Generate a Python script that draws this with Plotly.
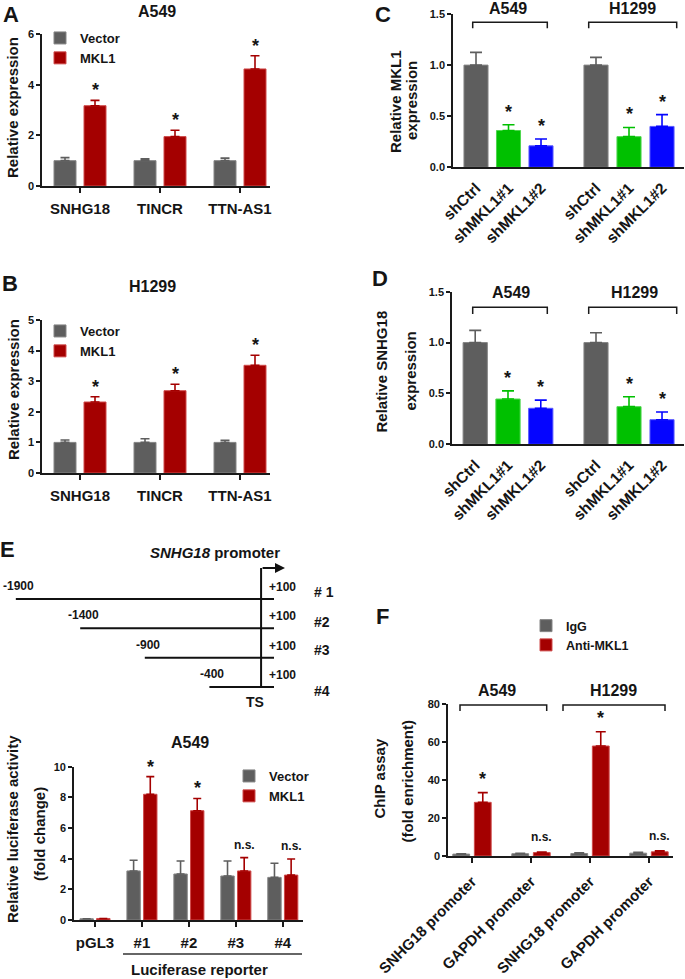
import plotly.graph_objects as go

W, H = 685, 979
FONT = "Liberation Sans, Arial, Helvetica, sans-serif"
TXT = "#151515"
AXC = "#1a1a1a"
GRAY, GRAY_L = "#5e5e5e", "#858585"
RED, RED_L = "#a40000", "#cf4a4a"
GREEN, GREEN_L = "#00c000", "#4fd64f"
BLUE, BLUE_L = "#0505ff", "#5a5aff"

# ---------------- data ----------------
lnc_genes = ["SNHG18", "TINCR", "TTN-AS1"]
A_vector = [1.00, 1.00, 1.00]
A_vector_err = [0.12, 0.07, 0.10]
A_mkl1 = [3.17, 1.95, 4.62]
A_mkl1_err = [0.21, 0.25, 0.52]

B_vector = [1.00, 1.00, 1.00]
B_vector_err = [0.08, 0.12, 0.07]
B_mkl1 = [2.32, 2.69, 3.52]
B_mkl1_err = [0.17, 0.21, 0.33]

sh_groups = ["shCtrl", "shMKL1#1", "shMKL1#2"]
C_a549 = [1.00, 0.36, 0.21]
C_a549_err = [0.125, 0.057, 0.067]
C_h1299 = [1.00, 0.30, 0.40]
C_h1299_err = [0.076, 0.09, 0.115]

D_a549 = [1.00, 0.445, 0.354]
D_a549_err = [0.12, 0.08, 0.08]
D_h1299 = [1.00, 0.37, 0.242]
D_h1299_err = [0.097, 0.098, 0.076]

construct_names = ["# 1", "#2", "#3", "#4"]
construct_start = [-1900, -1400, -900, -400]
construct_end = 100

reporters = ["pGL3", "#1", "#2", "#3", "#4"]
E_vector = [0.08, 3.20, 3.00, 2.87, 2.78]
E_vector_err = [0.0, 0.70, 0.85, 0.98, 0.92]
E_mkl1 = [0.10, 8.20, 7.13, 3.20, 2.93]
E_mkl1_err = [0.0, 1.15, 0.80, 0.87, 1.05]
E_sig = ["", "*", "*", "n.s.", "n.s."]

promoters = ["SNHG18 promoter", "GAPDH promoter"]
F_igg_a549 = [1.0, 1.2]
F_igg_a549_err = [0.2, 0.2]
F_anti_a549 = [28.3, 1.8]
F_anti_a549_err = [5.1, 0.3]
F_igg_h1299 = [1.3, 1.5]
F_igg_h1299_err = [0.4, 0.5]
F_anti_h1299 = [58.0, 2.2]
F_anti_h1299_err = [7.5, 0.6]
F_sig = ["*", "n.s."]

# ---------------- helpers (page pixels -> paper) ----------------
def px(p):
    return p / W

def py(p):
    return 1 - p / H

def dx(a, b):
    return [px(a), px(b)]

def dy(top, bottom):
    return [py(bottom), py(top)]

def f(size, bold=True):
    return dict(family=FONT, size=size, color=TXT, weight=700 if bold else 400)

annotations = []
shapes = []

def ann(text, x, y, size=15, bold=True, angle=0, xanchor="center", yanchor="middle"):
    annotations.append(dict(text=text, x=px(x), y=py(y), xref="paper", yref="paper",
                            showarrow=False, font=f(size, bold), textangle=angle,
                            xanchor=xanchor, yanchor=yanchor))

def dann(text, x, y, xref, yref, size=18, yshift=8, xshift=0, bold=True):
    annotations.append(dict(text=text, x=x, y=y, xref=xref, yref=yref, showarrow=False,
                            font=f(size, bold), yshift=yshift, xshift=xshift,
                            xanchor="center", yanchor="middle"))

def bracket(x0, x1, ytop, ybot):
    shapes.append(dict(type="path", xref="paper", yref="paper",
                       path=f"M {px(x0)},{py(ybot)} L {px(x0)},{py(ytop)} L {px(x1)},{py(ytop)} L {px(x1)},{py(ybot)}",
                       line=dict(color=AXC, width=1.5)))

def err(vals, errs, color, width=4.5):
    return dict(type="data", symmetric=False, array=errs, arrayminus=[0] * len(vals),
                color=color, thickness=1.6, width=width)

def yax(domain, anchor, rng, dtick, fmt=None):
    d = dict(domain=domain, anchor=anchor, range=rng, dtick=dtick, tick0=0,
             showline=True, linecolor=AXC, linewidth=1.6, ticks="outside", ticklen=4,
             tickwidth=1.6, tickcolor=AXC, showgrid=False, zeroline=False,
             tickfont=f(11), fixedrange=True)
    if fmt:
        d["tickformat"] = fmt
    return d

def xax(domain, anchor, cats, rng, ticks="outside", angle=0, size=15, standoff=3):
    return dict(domain=domain, anchor=anchor, type="category", categoryorder="array",
                categoryarray=cats, range=rng, showline=True, linecolor=AXC, linewidth=1.6,
                ticks=ticks, ticklen=5, tickwidth=1.6, tickcolor=AXC, showgrid=False,
                zeroline=False, tickfont=f(size), tickangle=angle,
                ticklabelstandoff=standoff, fixedrange=True)

fig = go.Figure()

# ---------------- Panels A & B ----------------
BW2 = 0.275
OFF_V, OFF_M = -0.325, 0.05
for (xa, ya, vec, vec_e, mk, mk_e, leg) in [
        ("x", "y", A_vector, A_vector_err, A_mkl1, A_mkl1_err, "legend"),
        ("x2", "y2", B_vector, B_vector_err, B_mkl1, B_mkl1_err, "legend2")]:
    fig.add_trace(go.Bar(x=lnc_genes, y=vec, name="Vector", xaxis=xa, yaxis=ya,
                         width=BW2, offset=OFF_V, legend=leg,
                         marker=dict(color=GRAY, line=dict(color=GRAY_L, width=1)),
                         error_y=err(vec, vec_e, GRAY)))
    fig.add_trace(go.Bar(x=lnc_genes, y=mk, name="MKL1", xaxis=xa, yaxis=ya,
                         width=BW2, offset=OFF_M, legend=leg,
                         marker=dict(color=RED, line=dict(color=RED_L, width=1)),
                         error_y=err(mk, mk_e, RED)))
    for i in range(len(lnc_genes)):
        dann("*", i + OFF_M + BW2 / 2, mk[i] + mk_e[i], xa, ya, yshift=10)

# ---------------- Panels C & D ----------------
sh_colors = [(GRAY, GRAY_L), (GREEN, GREEN_L), (BLUE, BLUE_L)]
for (xa, ya, vals, errs, bw) in [
        ("x3", "y3", C_a549, C_a549_err, 0.74), ("x4", "y3", C_h1299, C_h1299_err, 0.73),
        ("x5", "y4", D_a549, D_a549_err, 0.74), ("x6", "y4", D_h1299, D_h1299_err, 0.73)]:
    for i, g in enumerate(sh_groups):
        c, cl = sh_colors[i]
        fig.add_trace(go.Bar(x=[g], y=[vals[i]], name=g, xaxis=xa, yaxis=ya, width=bw,
                             showlegend=False,
                             marker=dict(color=c, line=dict(color=cl, width=1)),
                             error_y=err([vals[i]], [errs[i]], c, width=6)))
        if i > 0:
            dann("*", g, vals[i] + errs[i], xa, ya, yshift=13)
    shapes.append(dict(type="line", xref=xa, yref=ya, x0=1, x1=1, ysizemode="pixel",
                       yanchor=0, y0=0, y1=-5, line=dict(color=AXC, width=1.6)))

# ---------------- Panel E: promoter diagram ----------------
lx, ly = [], []
for r, s in enumerate(construct_start):
    lx += [s, construct_end, None]
    ly += [r + 1, r + 1, None]
fig.add_trace(go.Scatter(x=lx, y=ly, mode="lines", xaxis="x7", yaxis="y5", showlegend=False,
                         line=dict(color="#111111", width=2), hoverinfo="skip"))
ARROW_Y = -0.057
fig.add_trace(go.Scatter(x=[0, 0], y=[len(construct_start), ARROW_Y], mode="lines",
                         xaxis="x7", yaxis="y5", showlegend=False,
                         line=dict(color="#111111", width=2), hoverinfo="skip"))
annotations.append(dict(x=185, y=ARROW_Y, ax=0, ay=ARROW_Y, xref="x7", yref="y5",
                        axref="x7", ayref="y5", text="", showarrow=True, arrowhead=2,
                        arrowsize=1, arrowwidth=2, arrowcolor="#111111"))
name_shift = [7, 6, 8, -4]
for r, s in enumerate(construct_start):
    dann(f"{s}", s, r + 1, "x7", "y5", size=12, yshift=13, xshift=3)
    dann(f"+{construct_end}", construct_end, r + 1, "x7", "y5", size=12, yshift=12, xshift=8)
    annotations.append(dict(text=construct_names[r], x=px(312), y=r + 1, xref="paper", yref="y5",
                            showarrow=False, font=f(14), yshift=name_shift[r],
                            xanchor="left", yanchor="middle"))
dann("TS", 0, len(construct_start), "x7", "y5", size=14, yshift=-15, xshift=-6)

# ---------------- Panel E: luciferase bars ----------------
BWE = 0.285
OFF_EV, OFF_EM = -0.32, 0.035
fig.add_trace(go.Bar(x=reporters, y=E_vector, name="Vector", xaxis="x8", yaxis="y6",
                     width=BWE, offset=OFF_EV, legend="legend3",
                     marker=dict(color=GRAY, line=dict(color=GRAY_L, width=1)),
                     error_y=err(E_vector, E_vector_err, GRAY, width=4)))
fig.add_trace(go.Bar(x=reporters, y=E_mkl1, name="MKL1", xaxis="x8", yaxis="y6",
                     width=BWE, offset=OFF_EM, legend="legend3",
                     marker=dict(color=RED, line=dict(color=RED_L, width=1)),
                     error_y=err(E_mkl1, E_mkl1_err, RED, width=4)))
for i, s in enumerate(E_sig):
    if s:
        dann(s, i + OFF_EM + BWE / 2, E_mkl1[i] + E_mkl1_err[i], "x8", "y6",
             size=18 if s == "*" else 12, yshift=10 if s == "*" else 13)

# ---------------- Panel F: ChIP ----------------
BWF = 0.285
OFF_FI, OFF_FA = -0.325, 0.04
for (xa, igg, igg_e, anti, anti_e, show) in [
        ("x9", F_igg_a549, F_igg_a549_err, F_anti_a549, F_anti_a549_err, True),
        ("x10", F_igg_h1299, F_igg_h1299_err, F_anti_h1299, F_anti_h1299_err, False)]:
    fig.add_trace(go.Bar(x=promoters, y=igg, name="IgG", xaxis=xa, yaxis="y7", width=BWF,
                         offset=OFF_FI, legend="legend4", showlegend=show,
                         marker=dict(color=GRAY, line=dict(color=GRAY_L, width=1)),
                         error_y=err(igg, igg_e, GRAY, width=5)))
    fig.add_trace(go.Bar(x=promoters, y=anti, name="Anti-MKL1", xaxis=xa, yaxis="y7", width=BWF,
                         offset=OFF_FA, legend="legend4", showlegend=show,
                         marker=dict(color=RED, line=dict(color=RED_L, width=1)),
                         error_y=err(anti, anti_e, RED, width=5)))
    for i, s in enumerate(F_sig):
        dann(s, i + OFF_FA + BWF / 2, anti[i] + anti_e[i], xa, "y7",
             size=18 if s == "*" else 12, yshift=14 if s == "*" else 15)

# ---------------- text decorations ----------------
for t, x, y in [("A", 10.5, 14.5), ("B", 9.5, 283.5), ("C", 383, 14), ("D", 380.5, 278),
                ("E", 8, 549), ("F", 382.5, 616)]:
    ann(t, x, y, size=22)
ann("A549", 157, 12, size=16)
ann("H1299", 152.5, 287, size=16)
ann("A549", 508, 9, size=16)
ann("H1299", 632, 9, size=16)
ann("A549", 511, 292.7, size=16)
ann("H1299", 634, 292.7, size=16)
ann("A549", 190, 742, size=16)
ann("A549", 497, 690, size=16)
ann("H1299", 613, 690, size=16)
annotations.append(dict(text="<i>SNHG18</i> promoter", x=px(148), y=py(552), xref="paper",
                        yref="paper", showarrow=False, font=f(15)))
ann("Relative expression", 12.5, 107.5, angle=-90)
ann("Relative expression", 13, 390, angle=-90)
ann("Relative MKL1", 395, 102, angle=-90)
ann("expression", 412, 101, angle=-90)
ann("Relative SNHG18", 381, 371.5, angle=-90)
ann("expression", 410, 371.5, angle=-90)
ann("Relative luciferase activity", 12, 829, angle=-90)
ann("(fold change)", 39, 834, angle=-90)
ann("ChIP assay", 379, 778.5, angle=-90)
ann("(fold enrichment)", 406.5, 781, angle=-90)
ann("Luciferase reporter", 200, 969, size=15)
bracket(472.7, 547.3, 22.3, 28.3)
bracket(588.7, 676.7, 22.3, 28.3)
bracket(472.7, 547.3, 307.3, 314)
bracket(588.7, 676.7, 307.3, 314)
bracket(460, 546.7, 705, 711)
bracket(563, 665, 705, 711)
shapes.append(dict(type="line", xref="paper", yref="paper", x0=px(123), x1=px(302),
                   y0=py(954), y1=py(954), line=dict(color="#333333", width=1.6)))

# ---------------- layout ----------------
legend_common = dict(xanchor="left", yanchor="top", bgcolor="rgba(0,0,0,0)",
                     tracegroupgap=0, traceorder="normal")
fig.update_layout(
    width=W, height=H, margin=dict(l=0, r=0, t=0, b=0, autoexpand=False),
    paper_bgcolor="white", plot_bgcolor="white", barmode="overlay",
    font=dict(family=FONT, color=TXT),
    xaxis=xax(dx(42, 270), "y", lnc_genes, [-0.475, 2.375]),
    yaxis=yax(dy(34, 186), "x", [0, 6], 2),
    xaxis2=xax(dx(42, 270), "y2", lnc_genes, [-0.475, 2.375]),
    yaxis2=yax(dy(320, 473), "x2", [0, 5], 1),
    xaxis3=xax(dx(453, 568.5), "y3", sh_groups, [-0.708, 2.846], ticks="", angle=-45, size=15.5, standoff=4),
    xaxis4=xax(dx(568.5, 684), "y3", sh_groups, [-0.833, 2.666], ticks="", angle=-45, size=15.5, standoff=4),
    yaxis3=yax(dy(14, 167.3), "x3", [0, 1.5], 0.5, ".1f"),
    xaxis5=xax(dx(452, 568.5), "y4", sh_groups, [-0.708, 2.846], ticks="", angle=-45, size=15.5, standoff=4),
    xaxis6=xax(dx(568.5, 684), "y4", sh_groups, [-0.833, 2.666], ticks="", angle=-45, size=15.5, standoff=4),
    yaxis4=yax(dy(291.7, 444.3), "x5", [0, 1.5], 0.5, ".1f"),
    xaxis7=dict(domain=dx(15.6, 274), anchor="y5", range=[-1900, 100], visible=False, fixedrange=True),
    yaxis5=dict(domain=dy(560, 705), anchor="x7", range=[4.614, -0.33], visible=False, fixedrange=True),
    xaxis8=xax(dx(74, 303), "y6", reporters, [-0.447, 4.43]),
    yaxis6=yax(dy(766.7, 920), "x8", [0, 10], 2),
    xaxis9=xax(dx(448, 560.5), "y7", promoters, [-0.407, 1.5], angle=-45, standoff=4),
    xaxis10=xax(dx(560.5, 673), "y7", promoters, [-0.5, 1.407], angle=-45, standoff=4),
    yaxis7=yax(dy(704.3, 856), "x9", [0, 80], 20),
    legend=dict(x=px(40), y=py(23), font=f(13), **legend_common),
    legend2=dict(x=px(40), y=py(316), font=f(13), **legend_common),
    legend3=dict(x=px(229), y=py(761), font=f(13), **legend_common),
    legend4=dict(x=px(526), y=py(611), font=f(12.5), **legend_common),
    annotations=annotations, shapes=shapes,
)

# remove the page's default 8px body margin so the figure fills the window exactly
fig.write_html("out.html", config={"displayModeBar": False},
               post_script="document.body.style.margin='0px';")
